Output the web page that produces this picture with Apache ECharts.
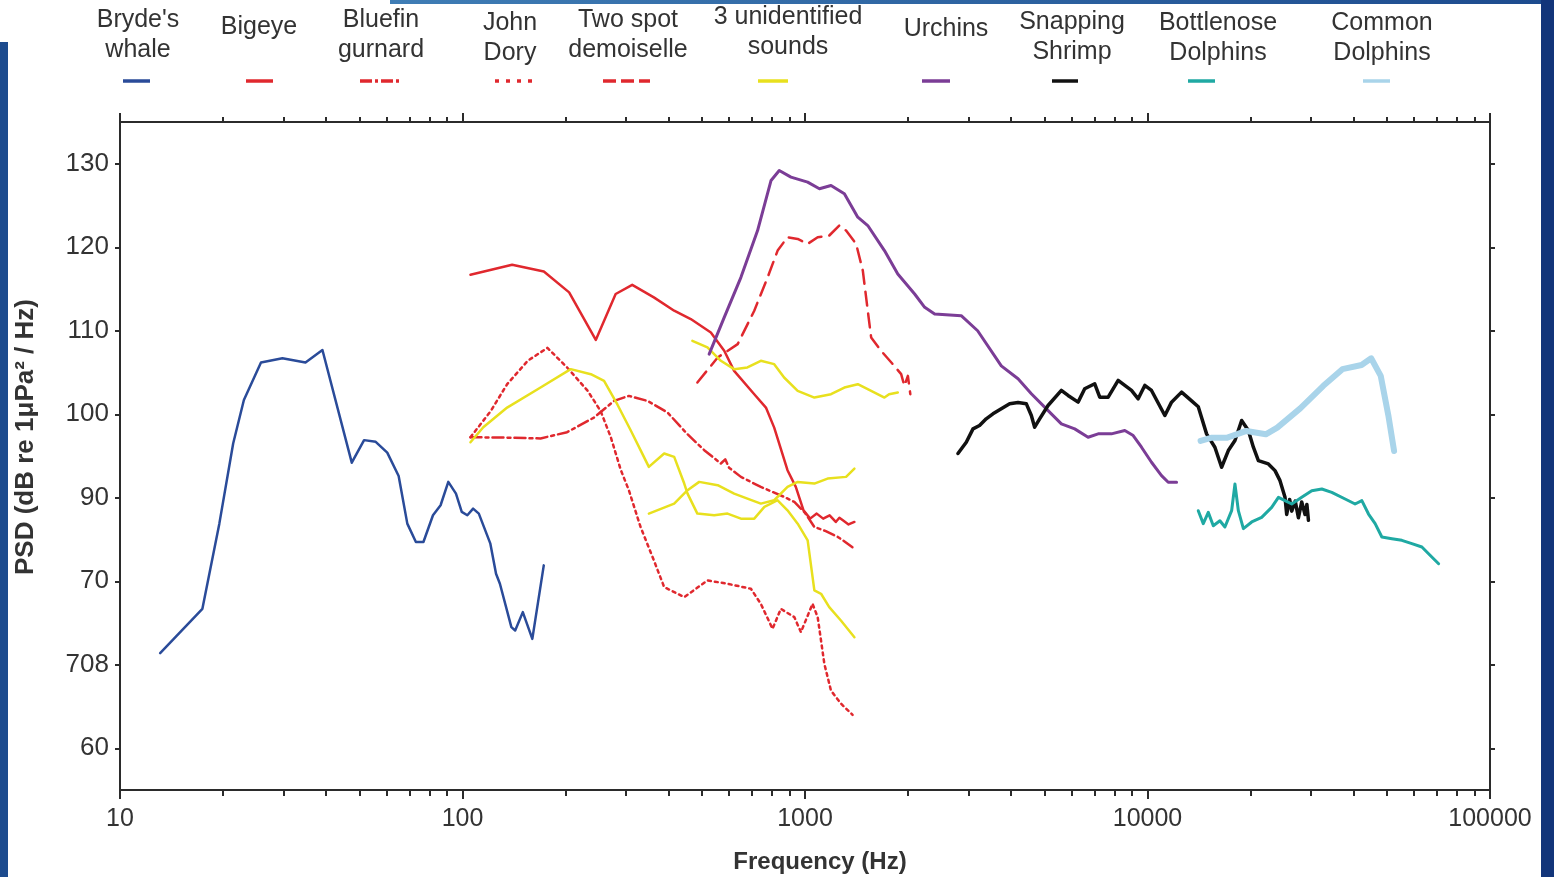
<!DOCTYPE html>
<html>
<head>
<meta charset="utf-8">
<title>PSD of marine sounds</title>
<script src="https://cdn.jsdelivr.net/npm/echarts@6/dist/echarts.min.js"></script>
<style>
  html, body { margin: 0; padding: 0; background: #fff; }
  #chart { width: 1554px; height: 877px; }
  .edge { position: absolute; }
</style>
</head>
<body>
<div id="chart"></div>
<div class="edge" style="left:0;top:42px;width:8px;height:835px;background:#1d4b8e"></div>
<div class="edge" style="left:1541px;top:0;width:13px;height:877px;background:#12357a"></div>
<div class="edge" style="left:390px;top:0;width:1151px;height:4px;background:linear-gradient(90deg,#3f7db5,#1d4b8e)"></div>
<script>
'use strict';

// [frequency Hz, PSD dB]
const brydesWhale = [[13.1, 71.4], [17.4, 76.7], [19.5, 86.9], [21.4, 96.5], [23.0, 101.7], [25.8, 106.2], [29.8, 106.7],
    [34.8, 106.2], [39.0, 107.7], [47.5, 94.2], [51.6, 96.9], [55.8, 96.7], [60.3, 95.4], [65.1, 92.6], [69.0, 86.9],
    [73.1, 84.7], [76.9, 84.7], [82.0, 87.9], [86.3, 89.1], [90.9, 91.9], [95.7, 90.5], [99.5, 88.3], [103.3, 87.9],
    [107.4, 88.7], [111.6, 88.1], [120.6, 84.5], [125.3, 80.9], [128.6, 79.7], [138.9, 74.5], [142.5, 74.1],
    [150.0, 76.3], [159.9, 73.1], [172.7, 81.9]];

const bigeye = [[105.5, 116.7], [139.6, 117.9], [172.8, 117.1], [204.8, 114.6], [245, 108.9], [280, 114.4], [313, 115.5],
    [362, 114.0], [415, 112.4], [464, 111.4], [531, 109.8], [581, 107.6], [621, 105.2], [711, 102.4], [769, 100.8],
    [813, 98.4], [889, 93.3], [940, 91.3], [990, 88.5], [1035, 87.5], [1082, 88.1], [1130, 87.5], [1180, 87.9],
    [1230, 87.1], [1260, 87.6], [1290, 87.3], [1340, 86.8], [1394, 87.1]];

const bluefinGurnard = [[105.5, 97.25], [135, 97.2], [169, 97.1], [202, 97.85], [242, 99.6], [277, 101.6], [306, 102.2],
    [347, 101.6], [397, 100.2], [454, 97.6], [508, 95.7], [568, 94.1], [585, 94.6], [600, 93.6], [650, 92.5],
    [743, 91.3], [869, 90.1], [931, 89.5], [1000, 88.2], [1065, 86.5], [1150, 86.0], [1247, 85.3], [1290, 84.9],
    [1394, 83.9]];

const johnDory = [[105.5, 97.25], [121, 100.4], [135, 103.6], [155, 106.4], [177, 107.95], [202, 105.6], [232, 102.8],
    [253, 100.4], [271, 97.25], [290, 93.3], [306, 90.9], [331, 86.5], [362, 82.5], [388, 79.3], [444, 78.1],
    [519, 80.1], [594, 79.7], [695, 79.1], [743, 77.3], [804, 74.3], [850, 76.7], [931, 75.7], [973, 73.9],
    [1052, 77.3], [1089, 75.7], [1139, 70.1], [1191, 66.9], [1273, 65.35], [1377, 64.0]];

const twoSpotDemoiselle = [[485, 103.8], [556, 106.8], [636, 108.4], [711, 112.4], [778, 116.4], [832, 119.6], [889, 121.2],
    [952, 121.0], [1018, 120.4], [1089, 121.2], [1177, 121.4], [1259, 122.6], [1318, 122.0], [1410, 120.4],
    [1475, 117.2], [1525, 112.4], [1560, 109.2], [1668, 107.6], [1804, 106.0], [1909, 104.8], [1950, 103.4],
    [1997, 104.6], [2030, 102.4]];

const unidentifiedA = [[105.5, 96.65], [115, 98.45], [135, 100.8], [169, 103.2], [207, 105.4], [237, 104.8], [259, 104.0],
    [283, 101.2], [310, 98.05], [331, 95.7], [350, 93.7], [388, 95.3], [415, 94.9], [444, 91.7], [454, 90.5],
    [485, 88.1], [543, 87.9], [594, 88.1], [650, 87.5], [711, 87.5], [761, 88.9], [832, 89.7], [889, 88.5],
    [952, 86.9], [1018, 84.9], [1065, 78.9], [1114, 78.5], [1177, 76.9], [1273, 75.3], [1394, 73.3]];

const unidentifiedB = [[469, 108.8], [519, 108.0], [568, 106.4], [621, 105.4], [679, 105.6], [743, 106.4], [813, 106.0],
    [869, 104.4], [952, 102.8], [1065, 102.0], [1191, 102.4], [1303, 103.2], [1426, 103.6], [1560, 102.8],
    [1706, 102.0], [1760, 102.4], [1866, 102.6]];

const unidentifiedC = [[350, 88.1], [415, 89.3], [454, 90.9], [491, 91.9], [556, 91.5], [621, 90.5], [679, 89.9],
    [743, 89.3], [813, 89.7], [889, 91.3], [952, 91.9], [1065, 91.7], [1164, 92.3], [1318, 92.5], [1394, 93.5]];

const urchins = [[525, 107.2], [581, 111.6], [650, 116.4], [727, 122.0], [796, 128.0], [841, 129.2], [910, 128.4],
    [1018, 127.8], [1102, 127.0], [1191, 127.4], [1303, 126.4], [1426, 123.6], [1525, 122.6], [1706, 119.6],
    [1866, 116.8], [2090, 114.4], [2236, 112.8], [2391, 112.0], [2858, 111.8], [3192, 110.0], [3742, 105.8],
    [4188, 104.25], [4580, 102.45], [5008, 100.85], [5239, 100.05], [5604, 98.85], [6130, 98.25], [6708, 97.25],
    [7176, 97.65], [7848, 97.65], [8584, 98.05], [9084, 97.45], [9605, 96.05], [10273, 94.25], [10989, 92.65],
    [11495, 91.85], [12159, 91.85]];

const snappingShrimp = [[2796, 95.3], [2957, 96.65], [3094, 98.25], [3233, 98.65], [3381, 99.45], [3538, 100.05],
    [3742, 100.65], [3958, 101.25], [4188, 101.4], [4429, 101.25], [4580, 99.85], [4683, 98.45], [4843, 99.45],
    [5124, 101.05], [5604, 102.85], [5862, 102.25], [6271, 101.45], [6556, 103.05], [7014, 103.65], [7254, 102.05],
    [7677, 102.05], [8210, 104.05], [8584, 103.45], [8980, 102.85], [9393, 101.85], [9820, 103.45], [10273, 102.85],
    [11237, 99.85], [11755, 101.45], [12573, 102.65], [13451, 101.6], [14068, 100.9], [14875, 97.65],
    [15731, 96.05], [16457, 93.65], [17218, 95.65], [18003, 96.85], [18830, 99.25], [19700, 98.05],
    [20377, 96.05], [21075, 94.45], [22541, 94.05], [23566, 93.25], [24372, 92.05], [25206, 90.05], [25493, 88.0],
    [26000, 89.8], [26370, 88.4], [27000, 89.6], [27580, 87.6], [28200, 89.5], [28836, 88.0], [29200, 89.2],
    [29505, 87.3]];

const bottlenoseDolphins = [[14068, 88.45], [14549, 86.9], [15048, 88.25], [15563, 86.65], [16270, 87.25], [16828, 86.5],
    [17605, 88.45], [18003, 91.65], [18418, 88.45], [19055, 86.3], [20150, 87.1], [21544, 87.65], [23041, 88.85],
    [24112, 90.05], [25206, 89.65], [26370, 89.25], [28200, 90.05], [30170, 90.85], [32280, 91.05], [34514, 90.65],
    [37760, 89.85], [40376, 89.25], [42250, 89.65], [44190, 88.05], [46204, 86.9], [48330, 85.3], [51700, 85.1],
    [55290, 84.9], [59140, 84.5], [63270, 84.1], [66170, 83.3], [70790, 82.1]];

const commonDolphins = [[14290, 96.8], [15420, 97.2], [17100, 97.2], [19450, 98.0], [22150, 97.6], [23930, 98.4],
    [27925, 100.7], [32614, 103.4], [37068, 105.4], [42170, 105.9], [44980, 106.7], [47970, 104.6], [50470, 99.9],
    [52480, 95.6]];

// axis ticks and their printed labels (as in the figure)
const xTickValues = [10, 100, 1000, 10000, 100000];
const xMinorTicks = [20, 30, 40, 50, 60, 70, 80, 90, 200, 300, 400, 500, 600, 700, 800, 900,
    2000, 3000, 4000, 5000, 6000, 7000, 8000, 9000, 20000, 30000, 40000, 50000, 60000, 70000, 80000, 90000];
const yTickValues = [60, 70, 80, 90, 100, 110, 120, 130];
const yTickLabels = ['60', '708', '70', '90', '100', '110', '120', '130'];

const legendNames = ["Bryde's\nwhale", 'Bigeye', 'Bluefin\ngurnard', 'John\nDory', 'Two spot\ndemoiselle',
    '3 unidentified\nsounds', 'Urchins', 'Snapping\nShrimp', 'Bottlenose\nDolphins', 'Common\nDolphins'];

const FONT = '"Liberation Sans", Arial, Helvetica, sans-serif';
const AXIS = '#2b2b2b';
const TEXT = '#333';
const RED = '#e0282e';

// style per legend entry
const legendStyles = [
    { color: '#2a4b99', dash: 'solid', legendDash: null },
    { color: RED, dash: 'solid', legendDash: null },
    { color: RED, dash: [11, 4, 3, 4], legendDash: [12, 3, 3, 3] },
    { color: RED, dash: [3, 4], legendDash: [4, 7] },
    { color: RED, dash: [14, 8], legendDash: [13, 5] },
    { color: '#e8e01e', dash: 'solid', legendDash: null },
    { color: '#7b3d96', dash: 'solid', legendDash: null },
    { color: '#111111', dash: 'solid', legendDash: null },
    { color: '#1fa9a3', dash: 'solid', legendDash: null },
    { color: '#a9d4ea', dash: 'solid', legendDash: null }
];

// legend layout: text centre x/y and sample line span
const legendLayout = [
    { cx: 138, cy: 35, x1: 123, x2: 150 },
    { cx: 259, cy: 27, x1: 246, x2: 273 },
    { cx: 381, cy: 35, x1: 360, x2: 400 },
    { cx: 510, cy: 38, x1: 495, x2: 537 },
    { cx: 628, cy: 35, x1: 603, x2: 650 },
    { cx: 788, cy: 32, x1: 758, x2: 788 },
    { cx: 946, cy: 29, x1: 922, x2: 950 },
    { cx: 1072, cy: 37, x1: 1052, x2: 1078 },
    { cx: 1218, cy: 38, x1: 1188, x2: 1215 },
    { cx: 1382, cy: 38, x1: 1363, x2: 1390 }
];

const genLine = (name, data, legendIdx, width) => {
    const st = legendStyles[legendIdx];
    return {
        name: name,
        type: 'line',
        data: data,
        xAxisIndex: 0,
        yAxisIndex: 0,
        showSymbol: false,
        symbol: 'none',
        lineStyle: { color: st.color, width: width || 2.5, type: st.dash, cap: 'round', join: 'round' },
        itemStyle: { color: st.color },
        z: 3
    };
};

const series = [
    genLine(legendNames[0], brydesWhale, 0),
    genLine(legendNames[1], bigeye, 1),
    genLine(legendNames[2], bluefinGurnard, 2),
    genLine(legendNames[3], johnDory, 3, 2.5),
    genLine(legendNames[4], twoSpotDemoiselle, 4, 2.5),
    genLine(legendNames[5], unidentifiedA, 5),
    genLine(legendNames[5], unidentifiedB, 5),
    genLine(legendNames[5], unidentifiedC, 5),
    genLine(legendNames[6], urchins, 6, 3),
    genLine(legendNames[7], snappingShrimp, 7, 3.5),
    genLine(legendNames[8], bottlenoseDolphins, 8, 3),
    genLine(legendNames[9], commonDolphins, 9, 6)
];

const legendGraphic = [];
legendNames.forEach((name, i) => {
    const lay = legendLayout[i];
    const st = legendStyles[i];
    legendGraphic.push({
        type: 'text',
        x: lay.cx,
        y: lay.cy,
        style: {
            text: name,
            font: '25px ' + FONT,
            fill: TEXT,
            align: 'center',
            verticalAlign: 'middle',
            textAlign: 'center',
            textVerticalAlign: 'middle',
            lineHeight: 30
        }
    });
    legendGraphic.push({
        type: 'line',
        shape: { x1: lay.x1, y1: 81, x2: lay.x2, y2: 81 },
        style: { stroke: st.color, lineWidth: 3.5, lineDash: st.legendDash }
    });
});

legendGraphic.push({
    type: 'text',
    x: 820,
    y: 862,
    style: {
        text: 'Frequency (Hz)', font: 'bold 24px ' + FONT, fill: TEXT,
        align: 'center', verticalAlign: 'middle', textAlign: 'center', textVerticalAlign: 'middle'
    }
});
legendGraphic.push({
    type: 'text',
    x: 26,
    y: 437,
    rotation: Math.PI / 2,
    style: {
        text: 'PSD (dB re 1μPa² / Hz)', font: 'bold 26px ' + FONT, fill: TEXT,
        align: 'center', verticalAlign: 'middle', textAlign: 'center', textVerticalAlign: 'middle'
    }
});

const axisLine = { show: true, lineStyle: { color: AXIS, width: 2 } };

const logAxis = (extra) => Object.assign({
    type: 'log',
    logBase: 10,
    min: 10,
    max: 100000,
    splitLine: { show: false },
    minorTick: { show: false }
}, extra);

const main = () => {
    const chart = echarts.init(document.getElementById('chart'), null, { renderer: 'canvas' });
    chart.setOption({
        animation: false,
        backgroundColor: 'transparent',
        grid: { left: 120, right: 64, top: 122, bottom: 87, containLabel: false },
        xAxis: [
            logAxis({
                position: 'bottom',
                axisLine: axisLine,
                axisTick: { show: true, length: 9, customValues: xTickValues, lineStyle: { color: AXIS, width: 2 } },
                axisLabel: {
                    show: true, customValues: xTickValues, margin: 17,
                    fontSize: 25, fontFamily: FONT, color: TEXT,
                    formatter: (v) => String(Math.round(v))
                }
            }),
            logAxis({
                position: 'bottom',
                axisLine: { show: false },
                axisTick: { show: true, length: 6, customValues: xMinorTicks, lineStyle: { color: AXIS, width: 2 } },
                axisLabel: { show: false }
            }),
            logAxis({
                position: 'top',
                axisLine: axisLine,
                axisTick: { show: true, length: 9, customValues: xTickValues, lineStyle: { color: AXIS, width: 2 } },
                axisLabel: { show: false }
            }),
            logAxis({
                position: 'top',
                axisLine: { show: false },
                axisTick: { show: true, length: 5, customValues: xMinorTicks, lineStyle: { color: AXIS, width: 2 } },
                axisLabel: { show: false }
            })
        ],
        yAxis: [
            {
                type: 'value',
                position: 'left',
                min: 55,
                max: 135,
                splitLine: { show: false },
                axisLine: axisLine,
                axisTick: { show: true, length: 5, customValues: yTickValues, lineStyle: { color: AXIS, width: 2 } },
                axisLabel: {
                    show: true, customValues: yTickValues, margin: 11,
                    fontSize: 26, fontFamily: FONT, color: TEXT,
                    formatter: (v) => yTickLabels[yTickValues.indexOf(Math.round(v))] || ''
                }
            },
            {
                type: 'value',
                position: 'right',
                min: 55,
                max: 135,
                splitLine: { show: false },
                axisLine: axisLine,
                axisTick: { show: true, length: 5, customValues: yTickValues, lineStyle: { color: AXIS, width: 2 } },
                axisLabel: { show: false }
            }
        ],
        graphic: legendGraphic,
        series: series
    });
};

main();
</script>
</body>
</html>
